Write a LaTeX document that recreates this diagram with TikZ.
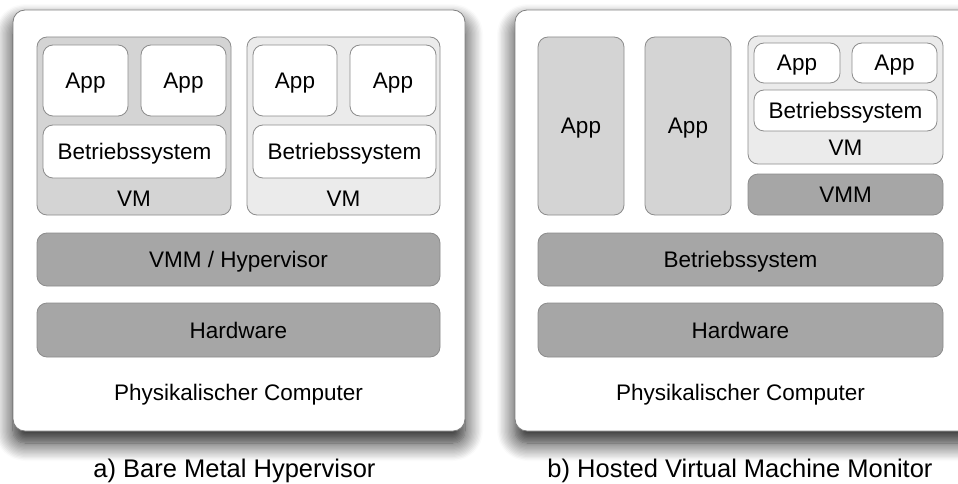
\documentclass[tikz,border=0pt]{standalone}
\usepackage{fontspec}
\setmainfont{Liberation Sans}
\usetikzlibrary{shadows.blur}
\definecolor{vmdark}{HTML}{D4D4D4}
\definecolor{vmlight}{HTML}{EBEBEB}
\definecolor{layer}{HTML}{A6A6A6}
\definecolor{edge}{HTML}{8C8C8C}
\tikzset{
  box/.style = {draw=edge, line width=0.8pt, rounded corners=10pt, inner sep=0pt,
    text depth=0pt, font=\fontsize{22.5}{27}\selectfont},
  sz/.style 2 args = {minimum width=#1pt, minimum height=#2pt},
  app/.style = {box, fill=white},
  vm/.style = {box, fill=vmdark},
  vmlt/.style = {box, fill=vmlight},
  layerbox/.style = {box, fill=layer},
  panel/.style = {draw=gray, line width=0.8pt, fill=white, rounded corners=12pt,
    blur shadow={shadow xshift=0pt, shadow yshift=-12pt, shadow blur radius=18pt,
      shadow blur steps=14, shadow opacity=90}},
  lbl/.style = {inner sep=0pt, text depth=0pt, font=\fontsize{22.5}{27}\selectfont},
  caption/.style = {inner sep=0pt, text depth=0pt, font=\fontsize{25.5}{30}\selectfont}
}

\begin{document}
\begin{tikzpicture}[x=1pt,y=-1pt]
  \useasboundingbox (0,0) rectangle (958,484);
  \clip (0,0) rectangle (958,484);
  % panels
  \path[panel] (13,10) rectangle (465,431);
  \path[panel] (515,10) rectangle (1000,431);

  % a) bare metal
  \node[vm,sz={194}{178}] (vmA1) at (134,126) {};
  \node[vmlt,sz={193}{178}] (vmA2) at (343.5,126) {};
  \node[app,sz={85}{71}] (appA1) at (85.5,80.5) {App};
  \node[app,sz={85}{71}] (appA2) at (183.5,80.5) {App};
  \node[app,sz={183}{53}] (osA1) at (134.5,151.5) {Betriebssystem};
  \node[lbl] (vmlA1) at (134,199) {VM};
  \node[app,sz={84}{71}] (appA3) at (295,80.5) {App};
  \node[app,sz={86}{71}] (appA4) at (393,80.5) {App};
  \node[app,sz={183}{53}] (osA2) at (344.5,151.5) {Betriebssystem};
  \node[lbl] (vmlA2) at (343.5,199) {VM};
  \node[layerbox,sz={403}{53}] (vmmA) at (238.5,259.5) {VMM / Hypervisor};
  \node[layerbox,sz={403}{54}] (hwA) at (238.5,330) {Hardware};
  \node[lbl] (pcA) at (238.5,392) {Physikalischer Computer};

  % b) hosted
  \node[vm,sz={86}{178}] (appB1) at (581,126) {App};
  \node[vm,sz={86}{178}] (appB2) at (688,126) {App};
  \node[vmlt,sz={195}{128}] (vmB) at (845.5,100) {};
  \node[app,sz={86}{40}] (appB3) at (797,63) {App};
  \node[app,sz={85}{40}] (appB4) at (894.5,63) {App};
  \node[app,sz={183}{41}] (osB1) at (845.5,110.5) {Betriebssystem};
  \node[lbl] (vmlB) at (845.5,148) {VM};
  \node[layerbox,sz={195}{41}] (vmmB) at (845.5,194.5) {VMM};
  \node[layerbox,sz={405}{53}] (osB2) at (740.5,259.5) {Betriebssystem};
  \node[layerbox,sz={405}{54}] (hwB) at (740.5,330) {Hardware};
  \node[lbl] (pcB) at (740.5,392) {Physikalischer Computer};

  % captions
  \node[caption] (capA) at (234.5,468) {a) Bare Metal Hypervisor};
  \node[caption] (capB) at (740,468) {b) Hosted Virtual Machine Monitor};
\end{tikzpicture}
\end{document}
